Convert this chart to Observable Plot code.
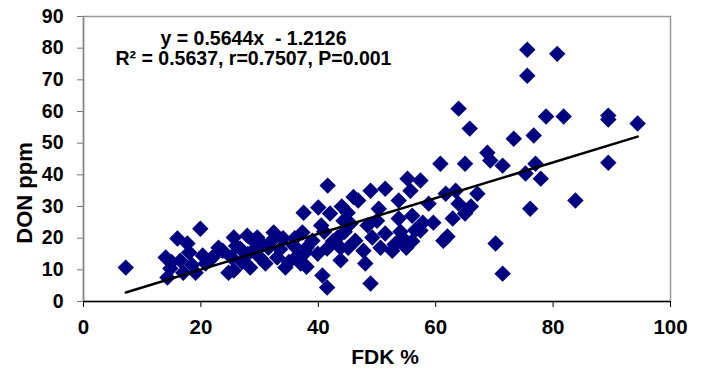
<!DOCTYPE html>
<html>
<head>
<meta charset="utf-8">
<script src="https://cdn.jsdelivr.net/npm/d3@7"></script>
<script src="https://cdn.jsdelivr.net/npm/@observablehq/plot@0.6"></script>
<style>
  html, body { margin: 0; padding: 0; background: #fff; }
</style>
</head>
<body>
<div id="chart"></div>
<script>
// FDK % values (x)
const fdk = [
  7.2, 14.3, 14.0, 14.8, 15.0, 16.0, 16.5, 17.0, 17.7, 18.0,
  18.5, 19.1, 19.9, 20.3, 20.8, 21.5, 22.0, 23.0, 23.7, 24.7,
  25.2, 25.6, 25.6, 26.0, 26.7, 27.0, 27.9, 28.0, 28.4, 29.0,
  29.3, 29.6, 30.0, 30.5, 31.0, 31.5, 32.0, 32.4, 33.0, 33.5,
  34.0, 34.4, 35.0, 35.8, 36.0, 36.5, 37.0, 37.3, 37.5, 37.8,
  38.0, 38.0, 39.0, 39.9, 40.0, 40.5, 40.7, 41.0, 41.5, 41.5,
  41.6, 42.0, 42.5, 43.3, 43.8, 43.8, 44.0, 44.3, 44.5, 45.0,
  45.1, 45.5, 46.0, 46.3, 46.8, 47.7, 48.0, 48.4, 48.9, 48.9,
  49.2, 50.0, 50.3, 50.6, 51.4, 51.4, 52.6, 53.0, 53.7, 53.7,
  54.0, 54.3, 55.0, 55.2, 55.7, 56.0, 56.0, 56.5, 57.4, 57.4,
  57.8, 58.8, 59.6, 60.8, 61.3, 61.7, 62.0, 62.9, 63.4, 63.9,
  63.9, 65.0, 65.0, 65.8, 66.0, 67.1, 68.8, 69.3, 70.2, 71.4,
  71.4, 73.3, 75.3, 75.6, 75.6, 76.1, 76.7, 77.0, 77.9, 78.8,
  80.7, 81.8, 83.8, 89.4, 89.4, 89.4, 94.4
];
// DON ppm values (y)
const don = [
  10.7, 7.6, 13.9, 10.4, 12.5, 19.9, 12.9, 9.1, 18.3, 15.5,
  11.5, 9.1, 23.0, 14.5, 12.0, 13.0, 14.0, 17.0, 16.0, 9.1,
  14.0, 20.2, 9.8, 17.5, 16.7, 12.5, 20.8, 15.0, 10.7, 19.0,
  16.7, 20.2, 14.0, 18.0, 12.0, 17.0, 19.0, 21.8, 13.9, 16.5,
  20.0, 10.7, 12.5, 17.7, 20.0, 14.5, 12.0, 21.8, 28.0, 15.5,
  11.0, 17.0, 19.2, 15.1, 29.7, 24.0, 8.2, 22.0, 4.4, 16.7,
  36.6, 27.8, 19.0, 20.2, 17.0, 13.0, 30.0, 25.5, 22.0, 28.0,
  17.0, 24.6, 33.0, 19.2, 31.9, 16.0, 12.0, 24.0, 35.0, 5.7,
  20.2, 25.5, 29.3, 17.0, 35.6, 21.5, 16.0, 18.0, 31.9, 26.2,
  22.0, 20.2, 17.0, 38.8, 35.0, 27.1, 19.0, 22.5, 38.2, 22.4,
  24.9, 30.9, 24.9, 43.5, 19.2, 34.0, 20.5, 26.2, 35.0, 60.9,
  30.9, 43.5, 27.8, 54.6, 30.0, 34.0, 47.0, 44.5, 18.3, 42.9,
  8.8, 51.4, 40.4, 79.5, 71.3, 29.3, 52.4, 43.5, 38.8, 58.4,
  78.2, 58.4, 31.9, 58.7, 57.5, 43.8, 56.2
];
// regression coefficients and annotation texts
const slope = [0.5644];
const intercept = [-1.2126];
const annotation = ["y = 0.5644x  - 1.2126", "R\u00B2 = 0.5637, r=0.7507, P=0.001"];
const xTicks = [0, 20, 40, 60, 80, 100];
const yTicks = [0, 10, 20, 30, 40, 50, 60, 70, 80, 90];
const xTitle = ["FDK %"];
const yTitle = ["DON ppm"];

const points = fdk.map((x, i) => ({x, y: don[i]}));
const xExt = d3.extent(fdk);
const fit = xExt.map(x => ({x, y: slope[0] * x + intercept[0]}));

const chart = Plot.plot({
  width: 702,
  height: 371,
  marginLeft: 83,
  marginRight: 32,
  marginTop: 16,
  marginBottom: 70,
  style: {fontFamily: "'Liberation Sans', Arial, sans-serif", fontWeight: "bold", fontSize: "19px", color: "#000", background: "#fff"},
  x: {domain: [0, 100]},
  y: {domain: [0, 90]},
  marks: [
    Plot.frame({stroke: "#999", strokeWidth: 1.5}),
    Plot.axisX({ticks: xTicks, tickSize: 6, tickPadding: 12, label: null, stroke: "#000", fill: "#000", fontSize: 20.5}),
    Plot.axisY({ticks: yTicks, tickSize: 6, tickPadding: 14, label: null, stroke: "#777", fill: "#000", fontSize: 19.5}),
    Plot.ruleX([0], {stroke: "#888", strokeWidth: 1.5}),
    Plot.ruleY([0], {stroke: "#000", strokeWidth: 1.5}),
    Plot.dot(points, {x: "x", y: "y", symbol: "diamond2", r: 7.4, fill: "#000080", stroke: "none"}),
    Plot.line(fit, {x: "x", y: "y", stroke: "#000", strokeWidth: 2.5}),
    Plot.text([annotation[0]], {frameAnchor: "top-left", textAnchor: "middle", lineAnchor: "middle", dx: 170, dy: 22, fontSize: 19.5, fontWeight: "bold", fill: "#000"}),
    Plot.text([annotation[1]], {frameAnchor: "top-left", textAnchor: "middle", lineAnchor: "middle", dx: 170, dy: 42, fontSize: 19.5, fontWeight: "bold", fill: "#000"}),
    Plot.text(xTitle, {frameAnchor: "bottom", textAnchor: "middle", lineAnchor: "middle", dx: 8, dy: 56, fontSize: 21, fontWeight: "bold", fill: "#000"}),
    Plot.text(yTitle, {frameAnchor: "left", textAnchor: "middle", lineAnchor: "middle", dx: -59, dy: 34, rotate: -90, fontSize: 22, fontWeight: "bold", fill: "#000"})
  ]
});
document.getElementById("chart").appendChild(chart);
</script>
</body>
</html>
